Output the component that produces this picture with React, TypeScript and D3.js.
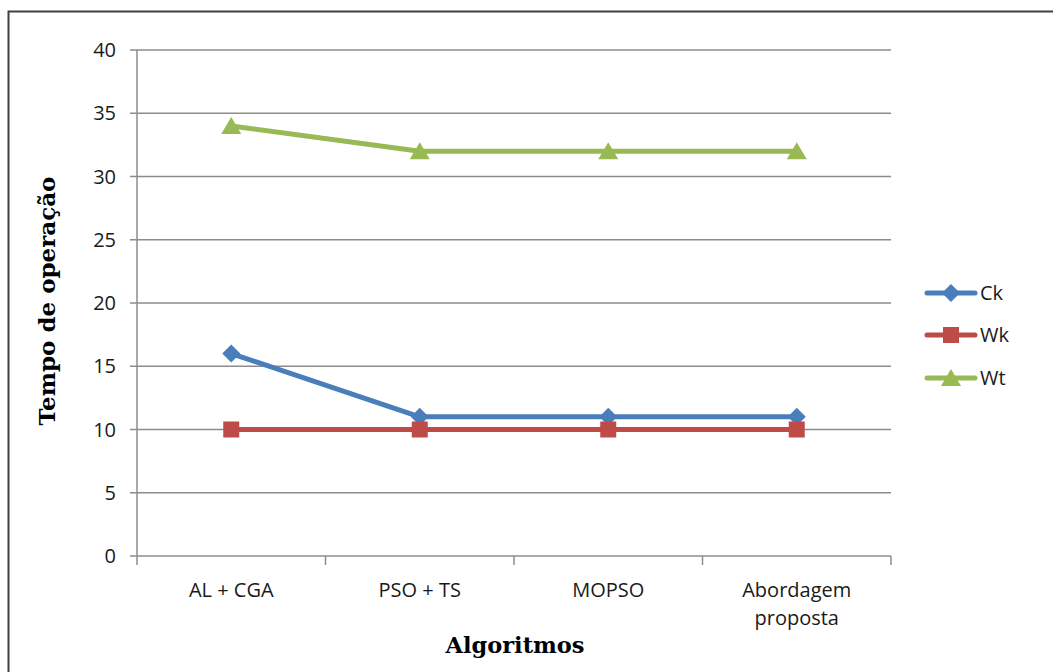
import React from "react";
import * as d3 from "d3";

const categories = ["AL + CGA", "PSO + TS", "MOPSO", "Abordagem proposta"];
const ck = [16, 11, 11, 11];
const wk = [10, 10, 10, 10];
const wt = [34, 32, 32, 32];
const yTicks = [0, 5, 10, 15, 20, 25, 30, 35, 40];

const series = [
  { name: "Ck", values: ck, color: "#4A7EBB", marker: "diamond" },
  { name: "Wk", values: wk, color: "#BE4B48", marker: "square" },
  { name: "Wt", values: wt, color: "#98B954", marker: "triangle" },
];

const W = 1053;
const H = 672;
const left = 137;
const right = 891;
const top = 50;
const bottom = 556;

function Marker({ type, x, y, color }: { type: string; x: number; y: number; color: string }) {
  if (type === "diamond") {
    const s = 9;
    return <path d={`M${x},${y - s}L${x + s},${y}L${x},${y + s}L${x - s},${y}Z`} fill={color} />;
  }
  if (type === "square") {
    const s = 8;
    return <rect x={x - s} y={y - s} width={2 * s} height={2 * s} fill={color} />;
  }
  const s = 9;
  return <path d={`M${x},${y - s}L${x + s + 1},${y + s - 1}L${x - s - 1},${y + s - 1}Z`} fill={color} />;
}

export default function App() {
  const band = d3.scaleBand<string>().domain(categories).range([left, right]);
  const x = (c: string) => (band(c) as number) + band.bandwidth() / 2;
  const y = d3.scaleLinear().domain([0, 40]).range([bottom, top]);
  const line = d3
    .line<[string, number]>()
    .x((d) => x(d[0]))
    .y((d) => y(d[1]));
  const tickFont = "'Open Sans', Lato, sans-serif";
  const titleFont = "'DejaVu Serif', serif";
  const boundaries = categories.map((c) => band(c) as number).concat([right]);
  const legendY = [293, 335, 378];

  return (
    <svg width={W} height={H} style={{ position: "absolute", left: 0, top: 0 }}>
      <rect x={0} y={0} width={W} height={H} fill="#fff" />
      <rect x={8.5} y={11.5} width={1060} height={700} fill="none" stroke="#404040" strokeWidth={2} />
      {yTicks.map((t) => (
        <g key={t}>
          <line x1={left - 7} x2={right} y1={y(t)} y2={y(t)} stroke="#8c8c8c" strokeWidth={1.5} />
          <text x={116} y={y(t)} dy="0.36em" textAnchor="end" fontFamily={tickFont} fontSize={20} fill="#1a1a1a">
            {t}
          </text>
        </g>
      ))}
      <line x1={left} x2={left} y1={top} y2={bottom} stroke="#8c8c8c" strokeWidth={1.5} />
      {boundaries.map((b, i) => (
        <line key={i} x1={b} x2={b} y1={bottom} y2={bottom + 9} stroke="#8c8c8c" strokeWidth={1.5} />
      ))}
      {categories.map((c) => {
        const words = c === "Abordagem proposta" ? ["Abordagem", "proposta"] : [c];
        return (
          <text key={c} x={x(c)} y={597} textAnchor="middle" fontFamily={tickFont} fontSize={20} fill="#1a1a1a">
            {words.map((w, i) => (
              <tspan key={i} x={x(c)} dy={i === 0 ? 0 : 28}>
                {w}
              </tspan>
            ))}
          </text>
        );
      })}
      {series.map((s) => (
        <g key={s.name}>
          <path
            d={line(categories.map((c, i) => [c, s.values[i]] as [string, number])) || ""}
            fill="none"
            stroke={s.color}
            strokeWidth={5}
            strokeLinejoin="round"
          />
          {categories.map((c, i) => (
            <Marker key={c} type={s.marker} x={x(c)} y={y(s.values[i])} color={s.color} />
          ))}
        </g>
      ))}
      {series.map((s, i) => (
        <g key={s.name}>
          <line x1={927} x2={975} y1={legendY[i]} y2={legendY[i]} stroke={s.color} strokeWidth={5} strokeLinecap="round" />
          <Marker type={s.marker} x={951} y={legendY[i]} color={s.color} />
          <text x={980} y={legendY[i]} dy="0.36em" fontFamily={tickFont} fontSize={20} fill="#1a1a1a">
            {s.name}
          </text>
        </g>
      ))}
      <text
        transform={`translate(55,301) rotate(-90)`}
        textAnchor="middle"
        fontFamily={titleFont}
        fontWeight="bold"
        fontSize={23}
        fill="#000"
      >
        Tempo de operação
      </text>
      <text x={515} y={653} textAnchor="middle" fontFamily={titleFont} fontWeight="bold" fontSize={22.5} fill="#000">
        Algoritmos
      </text>
    </svg>
  );
}
